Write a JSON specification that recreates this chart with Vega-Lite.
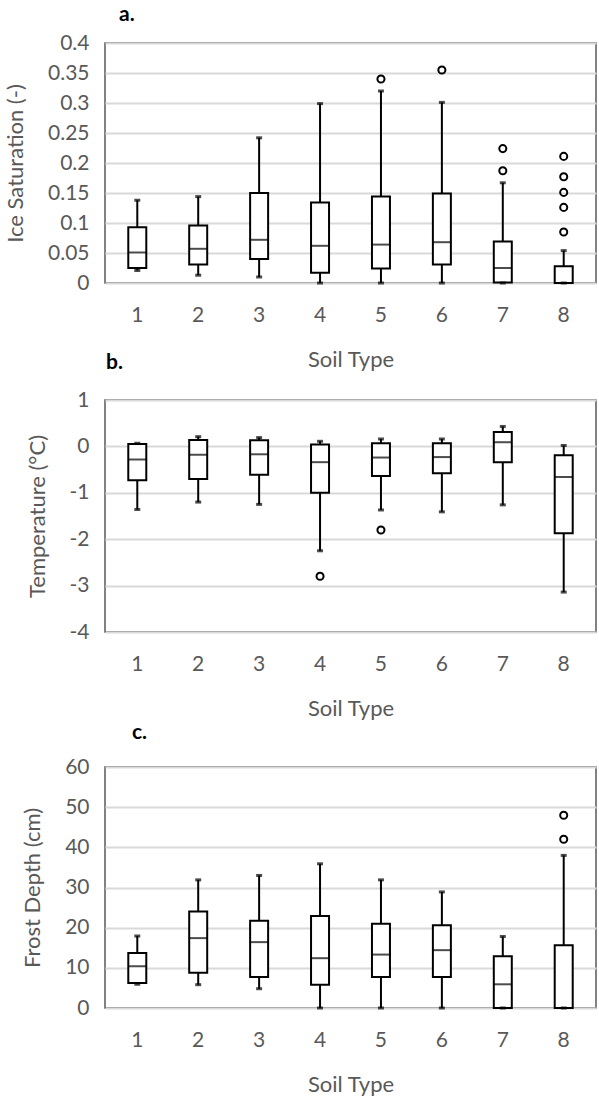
{
  "$schema": "https://vega.github.io/schema/vega-lite/v6.json",
  "background": "white",
  "padding": {"left": 3, "top": 3, "right": 0, "bottom": 0},
  "config": {
    "font": "Lato",
    "view": {"stroke": "#595959", "strokeWidth": 1.5},
    "axis": {
      "labelFont": "Lato",
      "labelFontSize": 21,
      "labelColor": "#595959",
      "labelOverlap": false,
      "titleFont": "Lato",
      "titleFontSize": 22,
      "titleFontWeight": "normal",
      "titleColor": "#595959",
      "domain": false,
      "ticks": false,
      "tickSize": 0,
      "gridColor": "#d9d9d9",
      "gridWidth": 2
    },
    "axisX": {"grid": false, "labelAngle": 0, "labelPadding": 21, "titlePadding": 24},
    "axisY": {"labelPadding": 16, "titlePadding": 20},
    "title": {"anchor": "start", "frame": "group", "font": "Lato", "fontSize": 21, "fontWeight": "bold", "color": "black"}
  },
  "datasets": {
    "ice": [
      {"soil": 1, "lo": 0.021, "q1": 0.025, "median": 0.051, "q3": 0.093, "hi": 0.138},
      {"soil": 2, "lo": 0.013, "q1": 0.031, "median": 0.057, "q3": 0.096, "hi": 0.144},
      {"soil": 3, "lo": 0.010, "q1": 0.040, "median": 0.072, "q3": 0.150, "hi": 0.242},
      {"soil": 4, "lo": 0.000, "q1": 0.017, "median": 0.062, "q3": 0.134, "hi": 0.299},
      {"soil": 5, "lo": 0.000, "q1": 0.024, "median": 0.064, "q3": 0.144, "hi": 0.320},
      {"soil": 6, "lo": 0.000, "q1": 0.031, "median": 0.068, "q3": 0.149, "hi": 0.301},
      {"soil": 7, "lo": 0.000, "q1": 0.001, "median": 0.025, "q3": 0.069, "hi": 0.167},
      {"soil": 8, "lo": 0.000, "q1": 0.000, "median": 0.000, "q3": 0.028, "hi": 0.054}
    ],
    "iceOut": [
      {"soil": 5, "value": 0.340},
      {"soil": 6, "value": 0.355},
      {"soil": 7, "value": 0.224},
      {"soil": 7, "value": 0.187},
      {"soil": 8, "value": 0.211},
      {"soil": 8, "value": 0.177},
      {"soil": 8, "value": 0.151},
      {"soil": 8, "value": 0.126},
      {"soil": 8, "value": 0.085}
    ],
    "temp": [
      {"soil": 1, "lo": -1.36, "q1": -0.73, "median": -0.28, "q3": 0.05, "hi": 0.07},
      {"soil": 2, "lo": -1.20, "q1": -0.70, "median": -0.18, "q3": 0.14, "hi": 0.21},
      {"soil": 3, "lo": -1.25, "q1": -0.61, "median": -0.17, "q3": 0.13, "hi": 0.19},
      {"soil": 4, "lo": -2.25, "q1": -1.00, "median": -0.34, "q3": 0.04, "hi": 0.11},
      {"soil": 5, "lo": -1.37, "q1": -0.64, "median": -0.24, "q3": 0.07, "hi": 0.16},
      {"soil": 6, "lo": -1.41, "q1": -0.58, "median": -0.23, "q3": 0.07, "hi": 0.16},
      {"soil": 7, "lo": -1.26, "q1": -0.34, "median": 0.09, "q3": 0.31, "hi": 0.43},
      {"soil": 8, "lo": -3.14, "q1": -1.87, "median": -0.66, "q3": -0.19, "hi": 0.02}
    ],
    "tempOut": [
      {"soil": 4, "value": -2.80},
      {"soil": 5, "value": -1.80}
    ],
    "frost": [
      {"soil": 1, "lo": 5.9, "q1": 6.2, "median": 10.4, "q3": 13.7, "hi": 17.9},
      {"soil": 2, "lo": 5.8, "q1": 8.8, "median": 17.4, "q3": 24.0, "hi": 31.9},
      {"soil": 3, "lo": 4.8, "q1": 7.7, "median": 16.4, "q3": 21.7, "hi": 33.0},
      {"soil": 4, "lo": 0.0, "q1": 5.8, "median": 12.4, "q3": 22.9, "hi": 35.9},
      {"soil": 5, "lo": 0.0, "q1": 7.7, "median": 13.3, "q3": 21.0, "hi": 31.9},
      {"soil": 6, "lo": 0.0, "q1": 7.7, "median": 14.4, "q3": 20.6, "hi": 28.9},
      {"soil": 7, "lo": 0.0, "q1": 0.0, "median": 5.9, "q3": 12.9, "hi": 17.8},
      {"soil": 8, "lo": 0.0, "q1": 0.0, "median": 0.0, "q3": 15.6, "hi": 38.0}
    ],
    "frostOut": [
      {"soil": 8, "value": 48.0},
      {"soil": 8, "value": 42.0}
    ]
  },
  "bounds": "flush",
  "spacing": 117,
  "vconcat": [
    {
      "title": {"text": "a.", "dx": 14, "offset": 7},
      "width": 491,
      "height": 240,
      "encoding": {
        "x": {"field": "soil", "type": "ordinal", "scale": {"domain": [1, 2, 3, 4, 5, 6, 7, 8], "paddingInner": 0, "paddingOuter": 0.03}, "axis": {"title": "Soil Type"}},
        "y": {"type": "quantitative", "scale": {"domain": [0, 0.4], "nice": false, "zero": false}, "axis": {"title": "Ice Saturation (-)", "tickCount": 12, "values": [0, 0.05, 0.1, 0.15, 0.2, 0.25, 0.3, 0.35, 0.4], "format": "~g"}}
      },
      "layer": [
        {
          "data": {"name": "ice"},
          "mark": {"type": "rule", "color": "black", "strokeWidth": 2},
          "encoding": {"y": {"field": "lo"}, "y2": {"field": "q1"}}
        },
        {
          "data": {"name": "ice"},
          "mark": {"type": "rule", "color": "black", "strokeWidth": 2},
          "encoding": {"y": {"field": "q3"}, "y2": {"field": "hi"}}
        },
        {
          "data": {"name": "ice"},
          "mark": {"type": "bar", "width": 18, "fill": "white", "stroke": "black", "strokeWidth": 2},
          "encoding": {"y": {"field": "q1"}, "y2": {"field": "q3"}}
        },
        {
          "data": {"name": "ice"},
          "mark": {"type": "tick", "color": "black", "size": 18, "thickness": 2},
          "encoding": {"y": {"field": "median"}}
        },
        {
          "data": {"name": "ice"},
          "mark": {"type": "tick", "color": "black", "size": 6, "thickness": 3},
          "encoding": {"y": {"field": "hi"}}
        },
        {
          "data": {"name": "ice"},
          "mark": {"type": "tick", "color": "black", "size": 6, "thickness": 3},
          "encoding": {"y": {"field": "lo"}}
        },
        {
          "data": {"name": "iceOut"},
          "mark": {"type": "point", "shape": "circle", "filled": false, "color": "black", "strokeWidth": 2, "size": 50, "opacity": 1},
          "encoding": {"y": {"field": "value"}}
        }
      ]
    },
    {
      "bounds": "flush",
      "spacing": 135,
      "vconcat": [
        {
          "title": {"text": "b.", "dx": 1, "offset": 16},
          "width": 491,
          "height": 232,
          "encoding": {
            "x": {"field": "soil", "type": "ordinal", "scale": {"domain": [1, 2, 3, 4, 5, 6, 7, 8], "paddingInner": 0, "paddingOuter": 0.03}, "axis": {"title": "Soil Type"}},
            "y": {"type": "quantitative", "scale": {"domain": [-4, 1], "nice": false, "zero": false}, "axis": {"title": "Temperature (°C)", "tickCount": 10, "values": [-4, -3, -2, -1, 0, 1], "labelExpr": "'' + datum.value"}}
          },
          "layer": [
            {
              "data": {"name": "temp"},
              "mark": {"type": "rule", "color": "black", "strokeWidth": 2},
              "encoding": {"y": {"field": "lo"}, "y2": {"field": "q1"}}
            },
            {
              "data": {"name": "temp"},
              "mark": {"type": "rule", "color": "black", "strokeWidth": 2},
              "encoding": {"y": {"field": "q3"}, "y2": {"field": "hi"}}
            },
            {
              "data": {"name": "temp"},
              "mark": {"type": "bar", "width": 18, "fill": "white", "stroke": "black", "strokeWidth": 2},
              "encoding": {"y": {"field": "q1"}, "y2": {"field": "q3"}}
            },
            {
              "data": {"name": "temp"},
              "mark": {"type": "tick", "color": "black", "size": 18, "thickness": 2},
              "encoding": {"y": {"field": "median"}}
            },
            {
              "data": {"name": "temp"},
              "mark": {"type": "tick", "color": "black", "size": 6, "thickness": 3},
              "encoding": {"y": {"field": "hi"}}
            },
            {
              "data": {"name": "temp"},
              "mark": {"type": "tick", "color": "black", "size": 6, "thickness": 3},
              "encoding": {"y": {"field": "lo"}}
            },
            {
              "data": {"name": "tempOut"},
              "mark": {"type": "point", "shape": "circle", "filled": false, "color": "black", "strokeWidth": 2, "size": 50, "opacity": 1},
              "encoding": {"y": {"field": "value"}}
            }
          ]
        },
        {
          "title": {"text": "c.", "dx": 27, "offset": 13},
          "width": 491,
          "height": 241,
          "encoding": {
            "x": {"field": "soil", "type": "ordinal", "scale": {"domain": [1, 2, 3, 4, 5, 6, 7, 8], "paddingInner": 0, "paddingOuter": 0.03}, "axis": {"title": "Soil Type"}},
            "y": {"type": "quantitative", "scale": {"domain": [0, 60], "nice": false, "zero": false}, "axis": {"title": "Frost Depth (cm)", "tickCount": 10, "values": [0, 10, 20, 30, 40, 50, 60]}}
          },
          "layer": [
            {
              "data": {"name": "frost"},
              "mark": {"type": "rule", "color": "black", "strokeWidth": 2},
              "encoding": {"y": {"field": "lo"}, "y2": {"field": "q1"}}
            },
            {
              "data": {"name": "frost"},
              "mark": {"type": "rule", "color": "black", "strokeWidth": 2},
              "encoding": {"y": {"field": "q3"}, "y2": {"field": "hi"}}
            },
            {
              "data": {"name": "frost"},
              "mark": {"type": "bar", "width": 18, "fill": "white", "stroke": "black", "strokeWidth": 2},
              "encoding": {"y": {"field": "q1"}, "y2": {"field": "q3"}}
            },
            {
              "data": {"name": "frost"},
              "mark": {"type": "tick", "color": "black", "size": 18, "thickness": 2},
              "encoding": {"y": {"field": "median"}}
            },
            {
              "data": {"name": "frost"},
              "mark": {"type": "tick", "color": "black", "size": 6, "thickness": 3},
              "encoding": {"y": {"field": "hi"}}
            },
            {
              "data": {"name": "frost"},
              "mark": {"type": "tick", "color": "black", "size": 6, "thickness": 3},
              "encoding": {"y": {"field": "lo"}}
            },
            {
              "data": {"name": "frostOut"},
              "mark": {"type": "point", "shape": "circle", "filled": false, "color": "black", "strokeWidth": 2, "size": 50, "opacity": 1},
              "encoding": {"y": {"field": "value"}}
            }
          ]
        }
      ]
    }
  ]
}
